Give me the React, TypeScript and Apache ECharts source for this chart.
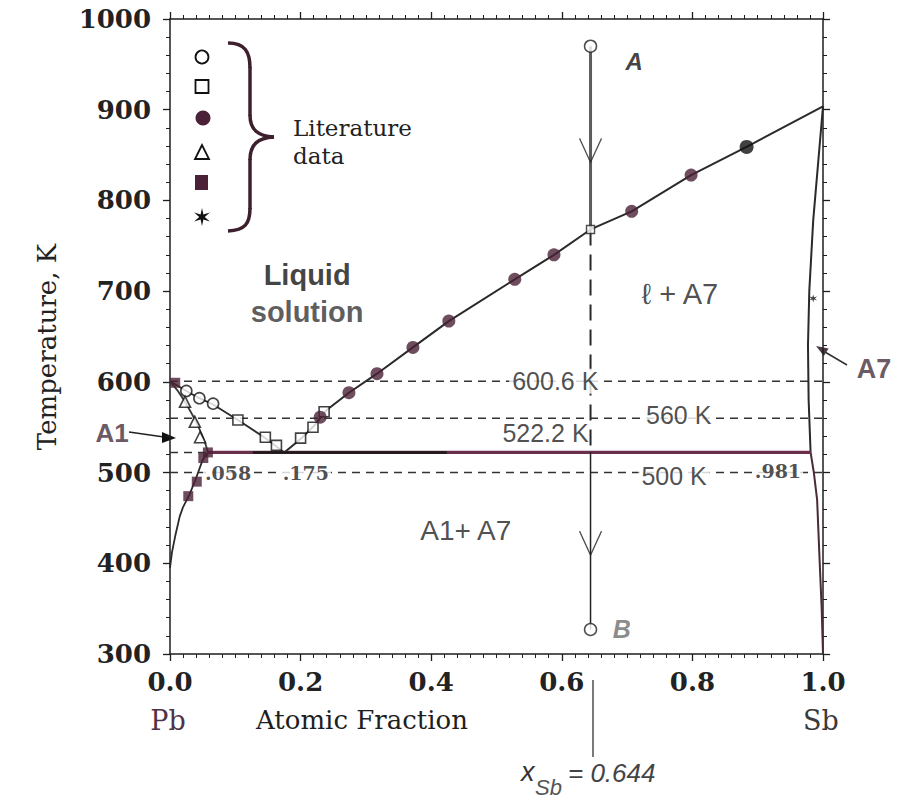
import React, { useEffect, useRef } from "react";
import * as echarts from "echarts";

// ---------------- data ----------------
const xMin = 0;
const xMax = 1;
const xStep = 0.2;
const yMin = 300;
const yMax = 1000;
const yStep = 100;

// phase boundaries [x_Sb, T(K)]
const liquidusPb = [[0, 600.6], [0.025, 590], [0.045, 582], [0.066, 575], [0.104, 558], [0.146, 538], [0.175, 522.2]];
const liquidusSb = [[0.175, 522.2], [0.2, 537], [0.22, 551], [0.24, 569], [0.274, 588], [0.317, 609], [0.372, 638], [0.427, 667], [0.528, 713], [0.588, 740], [0.644, 768], [0.707, 788], [0.798, 828], [0.883, 859], [1.0, 903.8]];
const solidusPb = [[0, 600.6], [0.012, 590], [0.023, 578], [0.034, 564], [0.042, 553], [0.05, 540], [0.055, 530], [0.058, 522.2]];
const solvusPb = [[0.058, 522.2], [0.05, 514], [0.04, 494], [0.03, 476], [0.02, 462], [0.015, 452], [0.008, 430], [0.003, 412], [0, 395]];
const solidusSb = [[1.0, 903.8], [0.985, 778], [0.979, 700], [0.977, 640], [0.978, 580], [0.981, 522.2]];
const solvusSb = [[0.981, 522.2], [0.986, 500], [0.991, 470], [0.995, 400], [0.998, 350], [1.0, 300]];
const eutectic = [[0.058, 522.2], [0.981, 522.2]];
const eutecticDark = [[0.127, 522.2], [0.424, 522.2]];

// isotherms (dashed)
const iso600 = [[0, 600.6], [1, 600.6]];
const iso560 = [[0, 560], [1, 560]];
const iso522 = [[0, 522.2], [0.058, 522.2]];
const iso500 = [[0, 500], [1, 500]];

// cooling path at x_Sb = 0.644
const pathAbove = [[0.644, 970], [0.644, 768]];
const pathMiddle = [[0.644, 768], [0.644, 522.2]];
const pathBelow = [[0.644, 522.2], [0.644, 327]];
const pathEnds = [[0.644, 970], [0.644, 327]];
const pathArrows = [[0.644, 842], [0.644, 409]];

// literature data
const openCircles = [[0.025, 590], [0.045, 582], [0.066, 576]];
const openSquares = [[0.104, 558], [0.146, 539], [0.163, 530], [0.2, 538], [0.219, 550], [0.236, 567]];
const pathSquare = [[0.644, 768]];
const filledCircles = [[0.23, 561], [0.274, 588], [0.317, 609], [0.372, 638], [0.427, 667], [0.528, 713], [0.588, 740], [0.707, 788], [0.798, 828]];
const blackCircles = [[0.883, 859]];
const openTriangles = [[0.023, 578], [0.038, 556], [0.046, 539]];
const filledSquares = [[0.008, 599], [0.058, 522.2], [0.051, 516], [0.041, 490], [0.028, 474]];
const stars = [[0.985, 692]];

// texts
const isothermTexts = ["600.6 K", "560 K", "522.2 K", "500 K"];
const compositionTexts = [".058", ".175", ".981"];
const phaseTexts = ["Liquid", "solution", "\u2113 + A7", "A1+ A7"];
const legendText = ["Literature", "data"];

// ---------------- styles ----------------
const INK = "#1e1e1e";
const MAROON = "#6b2f4b";
const DOT = "#4a2136";
const SERIF = "DejaVu Serif";
const SANS = "Liberation Sans, Arial, DejaVu Sans";
const STAR = "path://M0,-10L1.75,-3.03L8.66,-5L3.5,0L8.66,5L1.75,3.03L0,10L-1.75,3.03L-8.66,5L-3.5,0L-8.66,-5L-1.75,-3.03Z";

const line = (data: number[][], color: string, width: number, type: any = "solid", z = 2) => ({
  type: "line",
  data,
  symbol: "none",
  showSymbol: false,
  silent: true,
  z,
  lineStyle: { color, width, type },
});

const scatter = (data: number[][], symbol: string, size: any, itemStyle: any, z = 4, extra: any = {}) => ({
  type: "scatter",
  data,
  symbol,
  symbolSize: size,
  silent: true,
  z,
  itemStyle,
  ...extra,
});

const textAt = (text: string, x: number, y: number, style: any) => ({
  value: [x, y],
  label: { show: true, position: "inside", formatter: text, ...style },
});

const axisCommon = {
  type: "value",
  axisLine: { show: true, onZero: false, lineStyle: { color: INK, width: 1.5 } },
  axisTick: { show: true, inside: false, length: 7, lineStyle: { color: INK, width: 1.3 } },
  minorTick: { show: true, length: 4, lineStyle: { color: INK, width: 1 } },
  splitLine: { show: false },
  minorSplitLine: { show: false },
};

const starPts = (cx: number, cy: number, R: number, r: number) => {
  const pts: number[][] = [];
  for (let i = 0; i < 12; i++) {
    const a = (-90 + i * 30) * Math.PI / 180;
    const rad = i % 2 === 0 ? R : r;
    pts.push([cx + rad * Math.cos(a), cy + rad * Math.sin(a)]);
  }
  return pts;
};

function buildOption() {
  const isoStyle = { fontFamily: SANS, fontSize: 25, color: "#222", backgroundColor: "#fff", padding: [0, 3] };
  const compStyle = { fontFamily: SERIF, fontSize: 19, fontWeight: "bold", color: "#222", backgroundColor: "#fff", padding: [0, 2] };

  const plotTexts = [
    textAt(isothermTexts[0], 0.59, 600.6, isoStyle),
    textAt(isothermTexts[1], 0.779, 564, isoStyle),
    textAt(isothermTexts[2], 0.575, 544, { ...isoStyle, backgroundColor: "transparent" }),
    textAt(isothermTexts[3], 0.772, 496, isoStyle),
    textAt(compositionTexts[0], 0.089, 500, compStyle),
    textAt(compositionTexts[1], 0.208, 500, compStyle),
    textAt(compositionTexts[2], 0.931, 502, compStyle),
    textAt(phaseTexts[0], 0.21, 718, { fontFamily: SANS, fontSize: 29, fontWeight: "bold", color: "#111" }),
    textAt(phaseTexts[1], 0.21, 677, { fontFamily: SANS, fontSize: 29, fontWeight: "bold", color: "#333" }),
    textAt(phaseTexts[2], 0.781, 697, { fontFamily: SANS, fontSize: 29, color: "#222" }),
    textAt(phaseTexts[3], 0.453, 436, { fontFamily: SANS, fontSize: 28, color: "#222" }),
    textAt("A", 0.711, 953, { fontFamily: SANS, fontSize: 24, fontWeight: "bold", fontStyle: "italic", color: "#111" }),
    textAt("B", 0.692, 328, { fontFamily: SANS, fontSize: 25, fontWeight: "bold", fontStyle: "italic", color: "#6d6d6d" }),
  ];

  const graphics: any[] = [
    // legend markers
    { type: "circle", shape: { cx: 202, cy: 57, r: 6.5 }, style: { fill: "#fff", stroke: "#111", lineWidth: 1.8 } },
    { type: "rect", shape: { x: 195.5, y: 80, width: 13, height: 13 }, style: { fill: "#fff", stroke: "#111", lineWidth: 1.8 } },
    { type: "circle", shape: { cx: 203, cy: 118, r: 7.5 }, style: { fill: DOT } },
    { type: "polygon", shape: { points: [[202, 145], [195, 159], [209, 159]] }, style: { fill: "#fff", stroke: "#111", lineWidth: 1.8 } },
    { type: "rect", shape: { x: 195, y: 175, width: 13, height: 15 }, style: { fill: DOT } },
    { type: "polygon", shape: { points: starPts(202, 217, 9, 2.8) }, style: { fill: "#111" } },
    // brace
    { type: "bezierCurve", shape: { x1: 228, y1: 43, cpx1: 245, cpy1: 43, cpx2: 250, cpy2: 52, x2: 250, y2: 68 }, style: { stroke: "#3d1f2e", lineWidth: 3.5, fill: null } },
    { type: "line", shape: { x1: 250, y1: 67, x2: 250, y2: 116 }, style: { stroke: "#3d1f2e", lineWidth: 3.5 } },
    { type: "bezierCurve", shape: { x1: 250, y1: 115, cpx1: 250, cpy1: 130, cpx2: 258, cpy2: 136, x2: 274, y2: 137 }, style: { stroke: "#3d1f2e", lineWidth: 3.5, fill: null } },
    { type: "bezierCurve", shape: { x1: 274, y1: 137, cpx1: 258, cpy1: 138, cpx2: 250, cpy2: 144, x2: 250, y2: 160 }, style: { stroke: "#3d1f2e", lineWidth: 3.5, fill: null } },
    { type: "line", shape: { x1: 250, y1: 159, x2: 250, y2: 209 }, style: { stroke: "#3d1f2e", lineWidth: 3.5 } },
    { type: "bezierCurve", shape: { x1: 250, y1: 208, cpx1: 250, cpy1: 224, cpx2: 245, cpy2: 230, x2: 228, y2: 231 }, style: { stroke: "#3d1f2e", lineWidth: 3.5, fill: null } },
    { type: "text", x: 293, y: 128, style: { text: legendText[0], font: `23px "${SERIF}"`, fill: "#222", align: "left", verticalAlign: "middle" } },
    { type: "text", x: 293, y: 156, style: { text: legendText[1], font: `23px "${SERIF}"`, fill: "#222", align: "left", verticalAlign: "middle" } },
    // axis titles
    { type: "text", x: 47, y: 347, rotation: Math.PI / 2, style: { text: "Temperature, K", font: `26px "${SERIF}"`, fill: "#222", align: "center", verticalAlign: "middle" } },
    { type: "text", x: 168, y: 720, style: { text: "Pb", font: `27px "${SERIF}"`, fill: "#4f3346", align: "center", verticalAlign: "middle" } },
    { type: "text", x: 362, y: 720, style: { text: "Atomic Fraction", font: `26px "${SERIF}"`, fill: "#1e1e1e", align: "center", verticalAlign: "middle" } },
    { type: "text", x: 821, y: 720, style: { text: "Sb", font: `27px "${SERIF}"`, fill: "#3a3a3a", align: "center", verticalAlign: "middle" } },
    // A1 / A7 pointers
    { type: "text", x: 112, y: 433, style: { text: "A1", font: `bold 26px Liberation Sans`, fill: "#6c5a64", align: "center", verticalAlign: "middle" } },
    { type: "line", shape: { x1: 129, y1: 432, x2: 164, y2: 437 }, style: { stroke: "#222", lineWidth: 1.5 } },
    { type: "polygon", shape: { points: [[176, 438], [162, 432], [162, 443]] }, style: { fill: "#111" } },
    { type: "text", x: 874, y: 369, style: { text: "A7", font: `bold 27px Liberation Sans`, fill: "#6c5a64", align: "center", verticalAlign: "middle" } },
    { type: "line", shape: { x1: 847, y1: 365, x2: 825, y2: 352 }, style: { stroke: "#333", lineWidth: 1.6 } },
    { type: "polygon", shape: { points: [[816, 346], [828.6, 348.5], [823.9, 356.1]] }, style: { fill: "#4a3a44" } },
    // x_Sb marker below axis
    { type: "line", shape: { x1: 593, y1: 680, x2: 593, y2: 757 }, style: { stroke: "#222", lineWidth: 1.2 } },
    { type: "text", x: 521, y: 772, style: { text: "x", font: `italic 27px Liberation Sans`, fill: "#333", align: "left", verticalAlign: "middle" } },
    { type: "text", x: 535, y: 787, style: { text: "Sb", font: `italic 22px Liberation Sans`, fill: "#555", align: "left", verticalAlign: "middle" } },
    { type: "text", x: 568, y: 773, style: { text: "= 0.644", font: `italic 26px Liberation Sans`, fill: "#444", align: "left", verticalAlign: "middle" } },
  ];

  return {
    animation: false,
    backgroundColor: "#fff",
    grid: { left: 170, top: 19, right: 74, bottom: 145, containLabel: false },
    xAxis: [
      {
        ...axisCommon, min: xMin, max: xMax, interval: xStep, position: "bottom",
        minorTick: { ...axisCommon.minorTick, splitNumber: 10 },
        axisLabel: { show: true, margin: 15, formatter: (v: number) => v.toFixed(1), fontFamily: SERIF, fontSize: 26, fontWeight: "bold", color: "#222" },
      },
      {
        ...axisCommon, min: xMin, max: xMax, interval: xStep, position: "top",
        minorTick: { ...axisCommon.minorTick, splitNumber: 10 },
        axisLabel: { show: false },
      },
    ],
    yAxis: [
      {
        ...axisCommon, min: yMin, max: yMax, interval: yStep, position: "left",
        minorTick: { ...axisCommon.minorTick, splitNumber: 5 },
        axisLabel: { show: true, margin: 19, formatter: (v: number) => String(v), fontFamily: SERIF, fontSize: 26, fontWeight: "bold", color: "#222" },
      },
      {
        ...axisCommon, min: yMin, max: yMax, interval: yStep, position: "right",
        minorTick: { ...axisCommon.minorTick, splitNumber: 5 },
        axisLabel: { show: false },
      },
    ],
    series: [
      line(iso600, "#333", 1.5, [8, 6]),
      line(iso560, "#333", 1.5, [8, 6]),
      line(iso522, "#333", 1.5, [8, 6]),
      line(iso500, "#333", 1.5, [8, 6]),
      line(liquidusPb, "#2a2a2a", 1.8),
      line(liquidusSb, "#2a2a2a", 2),
      line(solidusPb, "#3a3a3a", 1.8),
      line(solvusPb, "#2a2a2a", 1.8),
      line(solidusSb, "#2a2a2a", 2),
      line(solvusSb, "#4a2a3a", 2),
      line(eutectic, MAROON, 3.2),
      line(eutecticDark, "#1a1a1a", 2.6),
      line(pathAbove, "#5c5c5c", 3),
      line(pathMiddle, "#2a2a2a", 2, [16, 9]),
      line(pathBelow, "#222", 1.5),
      scatter(pathArrows, "path://M0,0L11,24L22,0", [22, 24], { color: "rgba(0,0,0,0)", borderColor: "#222", borderWidth: 1.3 }, 4, { symbolOffset: [0, -12] }),
      scatter(pathEnds, "circle", 12, { color: "#fff", borderColor: "#222", borderWidth: 1.5 }),
      scatter(openCircles, "circle", 11, { color: "#fff", borderColor: "#111", borderWidth: 1.6 }),
      scatter(openSquares, "rect", 10, { color: "#fff", borderColor: "#111", borderWidth: 1.6 }),
      scatter(pathSquare, "rect", 8, { color: "#fff", borderColor: "#222", borderWidth: 1.4 }),
      scatter(openTriangles, "triangle", 11, { color: "#fff", borderColor: "#111", borderWidth: 1.6 }),
      scatter(filledSquares, "rect", 10, { color: DOT }),
      scatter(filledCircles, "circle", 13, { color: DOT }),
      scatter(blackCircles, "circle", 14, { color: "#111" }),
      scatter(stars, STAR, 8, { color: "#111" }),
      {
        type: "scatter",
        data: plotTexts,
        symbolSize: 1,
        silent: true,
        z: 6,
        itemStyle: { color: "rgba(0,0,0,0)" },
      },
    ],
    graphic: graphics,
  };
}

export default function App() {
  const ref = useRef<HTMLDivElement>(null);
  useEffect(() => {
    if (!ref.current) return;
    const chart = echarts.init(ref.current, null, { renderer: "svg" });
    chart.setOption(buildOption() as any);
    return () => chart.dispose();
  }, []);
  return (
    <div
      ref={ref}
      style={{ position: "fixed", left: 0, top: 0, width: 897, height: 799, background: "#fff" }}
    />
  );
}
